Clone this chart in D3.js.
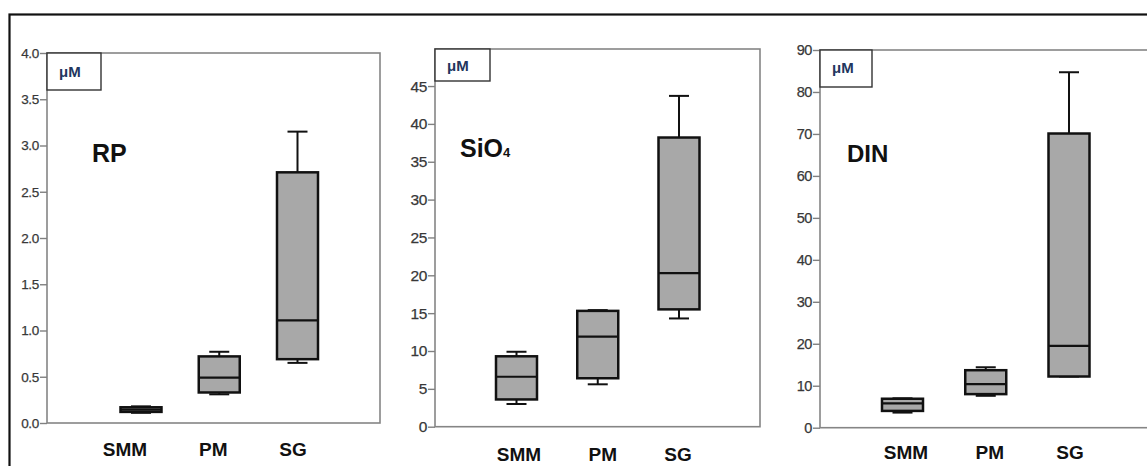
<!DOCTYPE html>
<html lang="en">
<head>
    <meta charset="UTF-8">
    <title>Nutrients boxplots</title>
    <script src="https://cdn.jsdelivr.net/npm/d3@7"></script>
    <style>
        body {
          margin: 0;
          background: #fff;
        }
        .tick text {
          font-family: "Liberation Sans", Arial, sans-serif;
          fill: #383838;
          stroke: #383838;
          stroke-width: 0.25px;
        }
        .tick line {
          stroke: #808080;
        }
        .lab {
          font-family: "Liberation Sans", Arial, sans-serif;
          font-weight: bold;
        }
    </style>
</head>
<body>
    <script>
        let categories = ['SMM', 'PM', 'SG'];

        // RP
        let rpMin = [0.11, 0.31, 0.65];
        let rpQ1 = [0.12, 0.33, 0.69];
        let rpMed = [0.145, 0.49, 1.11];
        let rpQ3 = [0.17, 0.72, 2.71];
        let rpMax = [0.18, 0.77, 3.15];
        let rpTicks = [0, 0.5, 1.0, 1.5, 2.0, 2.5, 3.0, 3.5, 4.0];

        // SiO4
        let siMin = [3.0, 5.6, 14.3];
        let siQ1 = [3.6, 6.4, 15.5];
        let siMed = [6.6, 11.9, 20.3];
        let siQ3 = [9.3, 15.3, 38.2];
        let siMax = [9.9, 15.4, 43.7];
        let siTicks = [0, 5, 10, 15, 20, 25, 30, 35, 40, 45];

        // DIN
        let dinMin = [3.6, 7.6, 12.2];
        let dinQ1 = [4.0, 8.0, 12.2];
        let dinMed = [5.8, 10.4, 19.5];
        let dinQ3 = [6.9, 13.7, 70.1];
        let dinMax = [7.0, 14.4, 84.7];
        let dinTicks = [0, 10, 20, 30, 40, 50, 60, 70, 80, 90];

        let w = 1147;
        let h = 466;

        let svg = d3.select('body')
                    .append('svg')
                    .attr('width', w)
                    .attr('height', h)

        // outer frame
        svg.append('rect')
           .attr('x', 9.5).attr('y', 14.5)
           .attr('width', w + 20).attr('height', h + 20)
           .attr('fill', 'none')
           .attr('stroke', '#111')
           .attr('stroke-width', 2.2)

        let panels = [
          {name: 'RP', min: rpMin, q1: rpQ1, med: rpMed, q3: rpQ3, max: rpMax, ticks: rpTicks, top: 4, fmt: '.1f',
           left: 47, right: 380, y0: 423, y1: 53, frameTop: 53, cx: [141, 297.5], lab: [-16, -6, -4.5], labY: 456,
           tickFont: 13.5, tickSp: -0.3, titleX: 92, titleY: 162, titleSize: 25, unitY: 77, unitH: 37, unitW: 54},
          {name: 'SiO', sub: '4', min: siMin, q1: siQ1, med: siMed, q3: siQ3, max: siMax, ticks: siTicks, top: 50, fmt: 'd',
           left: 435, right: 760, y0: 426.7, y1: 48.2, frameTop: 49, cx: [516.5, 679], lab: [2.5, 5, -1], labY: 461,
           tickFont: 15.5, tickSp: -0.4, titleX: 460, titleY: 157, titleSize: 25, unitY: 71, unitH: 32, unitW: 55},
          {name: 'DIN', min: dinMin, q1: dinQ1, med: dinMed, q3: dinQ3, max: dinMax, ticks: dinTicks, top: 90, fmt: 'd',
           left: 820, right: 1160, y0: 427.7, y1: 50, frameTop: 50, cx: [902.5, 1069], lab: [3.5, 4, 1], labY: 459,
           tickFont: 14.5, tickSp: -0.4, titleX: 847, titleY: 162, titleSize: 24, unitY: 73, unitH: 37, unitW: 52}
        ];

        panels.forEach(function(p) {
          let g = svg.append('g');
          let y = d3.scaleLinear().domain([0, p.top]).range([p.y0, p.y1]);
          let x = d3.scalePoint().domain(categories).range(p.cx);

          // plot frame
          g.append('rect')
           .attr('x', p.left).attr('y', p.frameTop)
           .attr('width', p.right - p.left).attr('height', p.y0 - p.frameTop)
           .attr('fill', 'none')
           .attr('stroke', '#858585')
           .attr('stroke-width', 1.6)

          let ax = g.append('g')
                    .attr('transform', 'translate(' + p.left + ',0)')
                    .call(d3.axisLeft(y).tickValues(p.ticks).tickFormat(d3.format(p.fmt)).tickSize(7).tickPadding(1));
          ax.select('.domain').remove();
          ax.selectAll('.tick line').attr('stroke-width', 1.4);
          ax.selectAll('.tick text').style('font-size', p.tickFont + 'px').attr('letter-spacing', p.tickSp);

          // unit box
          g.append('rect')
           .attr('x', p.left).attr('y', p.frameTop)
           .attr('width', p.unitW).attr('height', p.unitH)
           .attr('fill', '#fff')
           .attr('stroke', '#333')
           .attr('stroke-width', 1.4)
          g.append('text')
           .attr('class', 'lab')
           .attr('x', p.left + 12).attr('y', p.unitY)
           .attr('fill', '#22365e')
           .style('font-size', '15px')
           .text('μM')

          // title
          let t = g.append('text')
                   .attr('class', 'lab')
                   .attr('x', p.titleX).attr('y', p.titleY)
                   .attr('fill', '#111')
                   .style('font-size', p.titleSize + 'px')
                   .text(p.name);
          if (p.sub) {
            t.append('tspan').style('font-size', '13px').text(p.sub);
          }

          // boxes
          let bw = 41, cap = 20;
          categories.forEach(function(c, i) {
            let cx = x(c);
            g.append('line')
             .attr('x1', cx).attr('x2', cx)
             .attr('y1', y(p.q3[i])).attr('y2', y(p.max[i]))
             .attr('stroke', '#111').attr('stroke-width', 2);
            g.append('line')
             .attr('x1', cx).attr('x2', cx)
             .attr('y1', y(p.q1[i])).attr('y2', y(p.min[i]))
             .attr('stroke', '#111').attr('stroke-width', 2);
            [p.max[i], p.min[i]].forEach(function(v) {
              g.append('line')
               .attr('x1', cx - cap / 2).attr('x2', cx + cap / 2)
               .attr('y1', y(v)).attr('y2', y(v))
               .attr('stroke', '#111').attr('stroke-width', 2);
            });
            g.append('rect')
             .attr('x', cx - bw / 2).attr('y', y(p.q3[i]))
             .attr('width', bw).attr('height', y(p.q1[i]) - y(p.q3[i]))
             .attr('fill', '#a8a8a8')
             .attr('stroke', '#111')
             .attr('stroke-width', 2.5);
            g.append('line')
             .attr('x1', cx - bw / 2).attr('x2', cx + bw / 2)
             .attr('y1', y(p.med[i])).attr('y2', y(p.med[i]))
             .attr('stroke', '#111').attr('stroke-width', 2.2);

            g.append('text')
             .attr('class', 'lab')
             .attr('x', cx + p.lab[i]).attr('y', p.labY)
             .attr('text-anchor', 'middle')
             .attr('fill', '#111')
             .style('font-size', '19px')
             .text(c);
          });
        });
    </script>
</body>
</html>
